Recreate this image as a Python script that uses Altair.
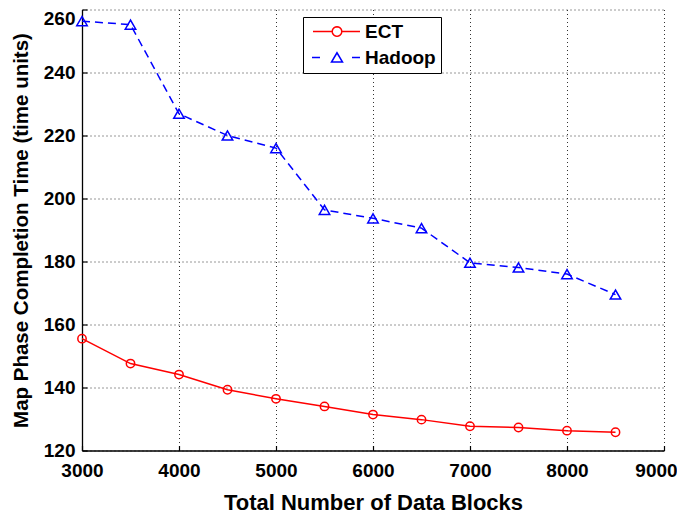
import math
import altair as alt
import pandas as pd

# ---- data ----
blocks = [3000, 3500, 4000, 4500, 5000, 5500, 6000, 6500, 7000, 7500, 8000, 8500]
ect = [155.5, 147.6, 144.1, 139.3, 136.4, 134.0, 131.4, 129.8, 127.7, 127.3, 126.3, 125.8]
hadoop = [256.3, 255.2, 226.9, 220.0, 216.0, 196.4, 193.7, 190.6, 179.6, 178.1, 176.0, 169.5]
series_names = ["ECT", "Hadoop"]
series_colors = ["#ff0000", "#0000ff"]
x_ticks = [3000, 4000, 5000, 6000, 7000, 8000, 9000]
y_ticks = [120, 140, 160, 180, 200, 220, 240, 260]

df = pd.DataFrame({
    "blocks": blocks + blocks,
    "time": ect + hadoop,
    "series": [series_names[0]] * len(ect) + [series_names[1]] * len(hadoop),
})

FONT = "Liberation Sans"

# legend symbols: line + marker drawn as custom paths (unit = sqrt(size)/2 px)
_r = 0.95
_circle = "M" + "L".join(
    f"{_r * math.cos(2 * math.pi * k / 20):.3f},{_r * math.sin(2 * math.pi * k / 20):.3f}"
    for k in range(20)) + "Z"
ect_sym = f"M-4.8,0L{-_r:.2f},0M{_r:.2f},0L4.6,0" + _circle
had_sym = "M-5.0,0L-3.4,0M3.0,0L4.6,0M0,-0.95L-1.1,0.9L1.1,0.9Z"

x_enc = alt.X(
    "blocks:Q",
    scale=alt.Scale(domain=[x_ticks[0], x_ticks[-1]], nice=False, zero=False),
    axis=alt.Axis(values=x_ticks, format="d", title="Total Number of Data Blocks",
                  labelPadding=16, titlePadding=12, labelFlush=False, labelOverlap=False,
                  labelOffset={"condition": {"test": f"datum.value == {x_ticks[-1]}", "value": -8},
                               "value": 0}),
)
y_enc = alt.Y(
    "time:Q",
    scale=alt.Scale(domain=[y_ticks[0], y_ticks[-1]], nice=False, zero=False),
    axis=alt.Axis(values=y_ticks, format="d",
                  title="Map Phase Completion Time (time units)",
                  labelPadding=12, titlePadding=12, labelFlush=False, labelOverlap=False,
                  titleFontSize=20.5,
                  labelOffset={"condition": {"test": f"datum.value == {y_ticks[-1]}", "value": 9},
                               "value": 0}),
)


def series_df(i):
    return df[df["series"] == series_names[i]]


line_ect = alt.Chart(series_df(0)).mark_line(
    strokeWidth=1.5, color=series_colors[0]).encode(x=x_enc, y=y_enc)
line_had = alt.Chart(series_df(1)).mark_line(
    strokeWidth=1.5, color=series_colors[1], strokeDash=[8, 5]).encode(x=x_enc, y=y_enc)

pts_ect = alt.Chart(series_df(0)).mark_point(
    shape="circle", size=70, filled=False, strokeWidth=1.5, opacity=1,
    color=series_colors[0]).encode(x=x_enc, y=y_enc)
pts_had = alt.Chart(series_df(1)).mark_point(
    shape="triangle-up", size=110, filled=False, strokeWidth=1.5, opacity=1,
    color=series_colors[1]).encode(x=x_enc, y=y_enc)

leg = alt.Legend(
    orient="none", legendX=221, legendY=7.5, title=None, direction="vertical",
    padding=5, rowPadding=6, symbolSize=100, symbolOffset=19.5, labelOffset=18.5,
    labelFont=FONT, labelFontSize=19, labelFontWeight="bold", labelColor="black",
    strokeColor="black", fillColor="white", symbolStrokeWidth=1.5, labelLimit=300,
    symbolFillColor="transparent",
)

legend_layer = alt.Chart(df).transform_filter("false").mark_point(
    filled=False, strokeWidth=1.5, opacity=1
).encode(
    color=alt.Color("series:N", scale=alt.Scale(domain=series_names, range=series_colors),
                    legend=leg),
    shape=alt.Shape("series:N", scale=alt.Scale(domain=series_names, range=[ect_sym, had_sym]),
                    legend=leg),
)

chart = alt.layer(line_ect, line_had, pts_ect, pts_had, legend_layer).properties(
    width=582, height=441,
    padding={"left": 74, "top": 1.5, "right": 13, "bottom": 64},
    autosize=alt.AutoSizeParams(type="none"),
).configure_view(stroke=None).configure_axis(
    labelFont=FONT, labelFontSize=19, labelFontWeight="bold", labelColor="black",
    titleFont=FONT, titleFontSize=22, titleFontWeight="bold", titleColor="black",
    domainColor="black", domainWidth=1.3, tickColor="black", tickWidth=1.2,
    tickSize={"expr": "-5"},
    grid=True, gridColor="#333333", gridDash=[1, 3], gridWidth=1, gridOpacity=1,
)

chart.save("out.html", embed_options={"renderer": "svg", "actions": False})
